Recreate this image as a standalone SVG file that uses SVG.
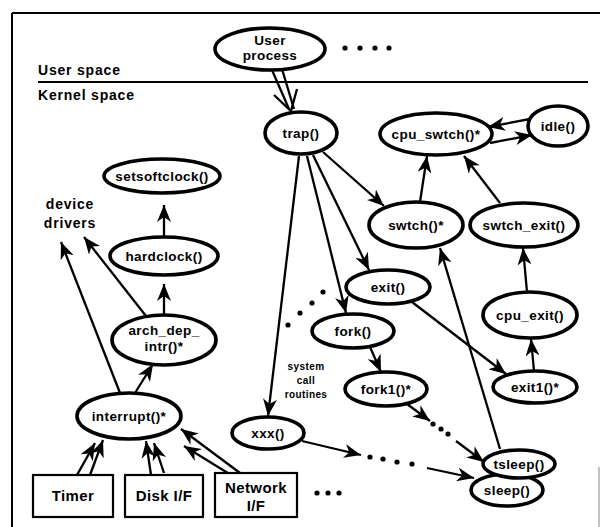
<svg xmlns="http://www.w3.org/2000/svg" width="600" height="527" viewBox="0 0 600 527">
<style>
.n ellipse{fill:#fff;stroke:#000;stroke-width:3.6}
.b rect{fill:#fff;stroke:#000;stroke-width:2.2}
text{font-family:"Liberation Sans",Arial,sans-serif;font-weight:bold;fill:#000}
.t{font-size:13.5px;letter-spacing:0.4px;text-anchor:middle}
.h{font-size:14px;letter-spacing:0.8px}
.bx{font-size:15px;letter-spacing:0.4px;text-anchor:middle}
.s{font-size:10px;letter-spacing:0.4px;text-anchor:middle}
#conn line,#conn polyline{stroke:#000;stroke-width:2.3;fill:none}
#conn .a{marker-end:url(#ah)}
.dot{fill:#000}
</style>
<defs>
<marker id="ah" markerUnits="userSpaceOnUse" markerWidth="18" markerHeight="14" refX="17" refY="7" orient="auto">
<path d="M0,0 L17,7 L0,14 L5,7 z" fill="#000"/>
</marker>
</defs>
<rect width="600" height="527" fill="#fff"/>
<g id="frame" stroke="#000" fill="none">
<line x1="12" y1="13" x2="600" y2="13" stroke-width="2"/>
<line x1="12" y1="13" x2="12" y2="527" stroke-width="2"/>
<line x1="599" y1="467" x2="599" y2="527" stroke-width="1" stroke="#888"/>
<line x1="38" y1="82" x2="588" y2="82" stroke-width="2"/>
</g>
<text class="h" x="38" y="75">User space</text>
<text class="h" x="38" y="100">Kernel space</text>
<g id="device-drivers"><text class="h" x="70" y="209" text-anchor="middle">device</text><text class="h" x="70" y="228" text-anchor="middle">drivers</text></g>
<g id="syscall-label"><text class="s" x="306" y="370">system</text><text class="s" x="306" y="384">call</text><text class="s" x="306" y="398">routines</text></g>

<g id="conn">
<line x1="272" y1="70" x2="289" y2="109"/>
<line x1="282" y1="69" x2="294" y2="109"/>
<polyline points="274,95 291,111 297,89" stroke-width="2.5"/>
<line class="a" x1="299" y1="156" x2="268" y2="416"/>
<line class="a" x1="307" y1="156" x2="346" y2="313"/>
<line class="a" x1="313" y1="155" x2="369" y2="270"/>
<line class="a" x1="323" y1="152" x2="384" y2="206"/>
<line class="a" x1="420" y1="202" x2="427" y2="156"/>
<line class="a" x1="500" y1="203" x2="464" y2="156"/>
<line class="a" x1="530" y1="119" x2="488" y2="127"/>
<line class="a" x1="490" y1="143" x2="532" y2="135"/>
<line class="a" x1="527" y1="292" x2="523" y2="248"/>
<line class="a" x1="534" y1="371" x2="531" y2="339"/>
<line class="a" x1="412" y1="302" x2="506" y2="374"/>
<line class="a" x1="370" y1="347" x2="381" y2="372"/>
<line class="a" x1="407" y1="404" x2="430" y2="421"/>
<line class="a" x1="456" y1="441" x2="484" y2="462"/>
<line class="a" x1="302" y1="441" x2="361" y2="455"/>
<line class="a" x1="427" y1="468" x2="474" y2="478"/>
<line class="a" x1="500" y1="449" x2="440" y2="248"/>
<line class="a" x1="164" y1="237" x2="164" y2="205"/>
<line class="a" x1="164" y1="315" x2="164" y2="284"/>
<line class="a" x1="146" y1="316" x2="84" y2="237"/>
<line class="a" x1="120" y1="393" x2="61" y2="242"/>
<line class="a" x1="135" y1="393" x2="153" y2="364"/>
<line class="a" x1="77" y1="475" x2="95" y2="443"/>
<line class="a" x1="90" y1="475" x2="103" y2="440"/>
<line class="a" x1="151" y1="475" x2="146" y2="441"/>
<line class="a" x1="164" y1="473" x2="154" y2="443"/>
<line class="a" x1="240" y1="473" x2="181" y2="429"/>
<line class="a" x1="231" y1="475" x2="184" y2="446"/>
</g>
<g id="dots">
<circle class="dot" cx="345" cy="48" r="2.6"/><circle class="dot" cx="360" cy="48" r="2.6"/><circle class="dot" cx="375" cy="48" r="2.6"/><circle class="dot" cx="389" cy="48" r="2.6"/>
<circle class="dot" cx="288" cy="325" r="2.6"/><circle class="dot" cx="300" cy="313" r="2.6"/><circle class="dot" cx="312" cy="303" r="2.6"/><circle class="dot" cx="323" cy="292" r="2.6"/>
<circle class="dot" cx="433" cy="424" r="2.6"/><circle class="dot" cx="441" cy="429" r="2.6"/><circle class="dot" cx="448" cy="434" r="2.6"/>
<circle class="dot" cx="370" cy="457" r="2.6"/><circle class="dot" cx="383" cy="459" r="2.6"/><circle class="dot" cx="397" cy="462" r="2.6"/><circle class="dot" cx="412" cy="464" r="2.6"/>
<circle class="dot" cx="317" cy="493" r="2.6"/><circle class="dot" cx="328" cy="493" r="2.6"/><circle class="dot" cx="339" cy="493" r="2.6"/>
</g>

<g id="user-process" class="n"><ellipse cx="270" cy="49" rx="55" ry="21"/><text class="t" x="270" y="45">User</text><text class="t" x="270" y="60">process</text></g>
<g id="trap" class="n"><ellipse cx="301" cy="133" rx="36" ry="21"/><text class="t" x="301" y="138">trap()</text></g>
<g id="cpu_swtch" class="n"><ellipse cx="436" cy="134" rx="56" ry="21"/><text class="t" x="436" y="139">cpu_swtch()*</text></g>
<g id="idle" class="n"><ellipse cx="558" cy="126" rx="30" ry="20"/><text class="t" x="558" y="131">idle()</text></g>
<g id="swtch" class="n"><ellipse cx="416" cy="225" rx="47" ry="23"/><text class="t" x="416" y="230">swtch()*</text></g>
<g id="swtch_exit" class="n"><ellipse cx="524" cy="225" rx="54" ry="22"/><text class="t" x="524" y="230">swtch_exit()</text></g>
<g id="exit" class="n"><ellipse cx="388" cy="287" rx="42" ry="17"/><text class="t" x="388" y="292">exit()</text></g>
<g id="cpu_exit" class="n"><ellipse cx="530" cy="315" rx="47" ry="23"/><text class="t" x="530" y="320">cpu_exit()</text></g>
<g id="fork" class="n"><ellipse cx="353" cy="331" rx="41" ry="17"/><text class="t" x="353" y="336">fork()</text></g>
<g id="fork1" class="n"><ellipse cx="386" cy="389" rx="41" ry="17"/><text class="t" x="386" y="394">fork1()*</text></g>
<g id="exit1" class="n"><ellipse cx="535" cy="387" rx="42" ry="16"/><text class="t" x="535" y="392">exit1()*</text></g>
<g id="sleep" class="n"><ellipse cx="507" cy="490" rx="36" ry="16"/><text class="t" x="507" y="495">sleep()</text></g>
<g id="tsleep" class="n"><ellipse cx="519" cy="464" rx="36" ry="14"/><text class="t" x="519" y="469">tsleep()</text></g>
<g id="xxx" class="n"><ellipse cx="268" cy="433" rx="36" ry="16"/><text class="t" x="268" y="438">xxx()</text></g>
<g id="setsoftclock" class="n"><ellipse cx="162" cy="176" rx="58" ry="17"/><text class="t" x="162" y="181">setsoftclock()</text></g>
<g id="hardclock" class="n"><ellipse cx="164" cy="256" rx="54" ry="19"/><text class="t" x="164" y="261">hardclock()</text></g>
<g id="arch_dep_intr" class="n"><ellipse cx="164" cy="340" rx="52" ry="25"/><text class="t" x="164" y="335">arch_dep_</text><text class="t" x="164" y="351">intr()*</text></g>
<g id="interrupt" class="n"><ellipse cx="129" cy="416" rx="52" ry="23"/><text class="t" x="129" y="421">interrupt()*</text></g>

<g id="timer" class="b"><rect x="33" y="475" width="80" height="42"/><text class="bx" x="73" y="501">Timer</text></g>
<g id="disk" class="b"><rect x="125" y="475" width="78" height="42"/><text class="bx" x="164" y="501">Disk I/F</text></g>
<g id="network" class="b"><rect x="215" y="473" width="82" height="44"/><text class="bx" x="256" y="493">Network</text><text class="bx" x="256" y="511">I/F</text></g>
</svg>
